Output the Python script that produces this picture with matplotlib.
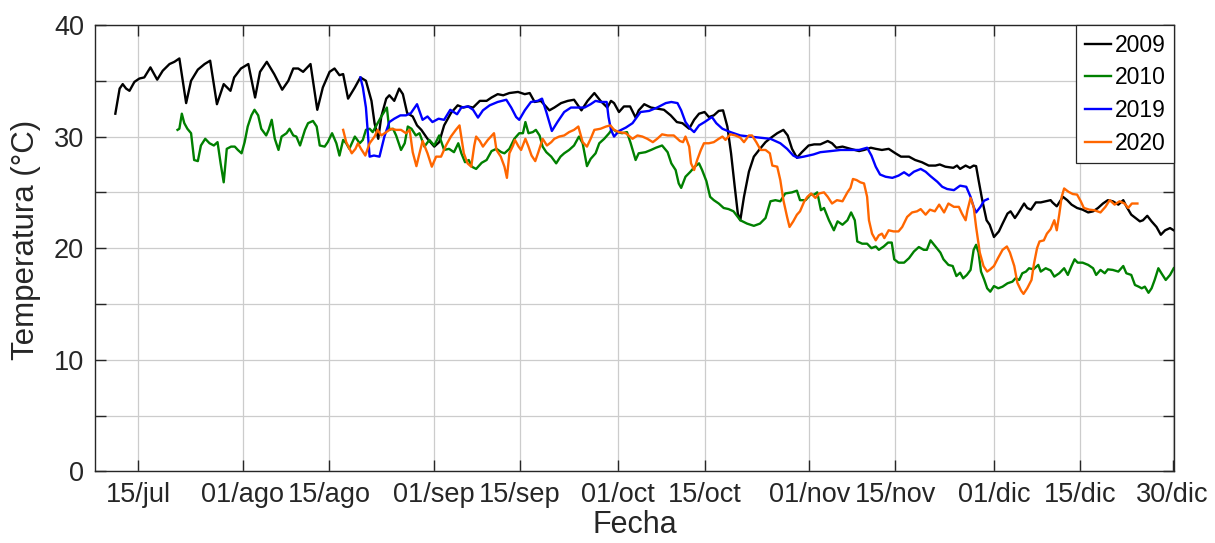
import matplotlib
matplotlib.use("Agg")
import matplotlib.pyplot as plt
from matplotlib.ticker import FixedLocator, MultipleLocator

plt.rcParams['font.family'] = ['Liberation Sans', 'DejaVu Sans']

# x values are day-of-year, y values are temperature (°C)
day_2009 = [192.3,193.0,193.5,194.05,194.6,195.4,196.2,197.0,198.0,199.1,200.0,201.1,201.9,202.7,203.8,204.6,205.7,206.8,207.7,208.8,209.9,211.0,211.6,212.7,213.9,215.0,215.8,216.9,218.1,219.4,220.4,221.2,222.0,222.8,224.0,225.1,226.0,227.1,227.9,228.7,229.3,230.1,231.2,232.1,233.0,233.9,234.4,235.0,235.5,236.3,236.8,237.6,238.4,239.0,239.7,240.6,241.3,242.0,243.0,244.1,244.9,245.7,246.8,247.9,248.8,249.6,250.4,251.5,252.6,253.4,254.4,255.3,256.3,257.7,258.8,259.6,260.4,261.4,262.8,263.6,264.7,265.8,266.8,268.0,269.0,270.1,271.1,272.2,272.8,273.3,274.1,274.9,275.9,276.8,277.3,278.2,279.3,280.3,281.4,282.5,283.5,284.4,285.5,286.3,287.1,288.0,288.7,289.5,290.3,291.0,291.7,292.3,292.9,293.4,293.8,294.4,295.2,296.0,297.0,297.9,298.8,299.8,300.8,301.5,302.2,303.0,303.8,304.9,305.8,306.8,308.0,308.7,309.4,310.4,311.7,313.1,313.9,315.0,315.8,316.8,317.9,319.0,319.9,321.2,322.2,323.3,324.4,325.5,326.2,327.1,328.4,329.0,329.5,330.4,331.1,331.7,332.1,332.5,333.1,333.8,334.3,335.0,335.8,336.4,337.2,337.7,338.4,338.9,339.9,340.4,341.0,341.8,342.6,343.4,344.2,344.5,345.2,346.2,346.9,347.6,348.5,349.4,350.3,351.1,351.9,352.7,353.5,354.3,355.2,356.0,356.5,357.3,358.0,358.7,359.2,359.9,360.6,361.4,362.1,362.8,363.6,364.2]
temp_2009 = [32.05,34.3,34.7,34.3,34.1,34.9,35.2,35.3,36.2,35.1,35.9,36.5,36.7,37.0,33.0,35.0,36.0,36.5,36.8,32.9,34.7,34.1,35.3,36.1,36.5,33.5,35.8,36.7,35.6,34.2,35.0,36.1,36.1,35.8,36.5,32.4,34.4,35.8,36.1,35.5,35.6,33.4,34.4,35.3,35.0,33.2,31.2,29.8,31.8,33.4,33.7,33.2,34.3,33.8,32.1,31.8,31.0,30.6,29.8,29.1,29.5,31.0,32.1,32.8,32.6,32.7,32.6,33.2,33.2,33.5,33.8,33.7,33.9,34.0,33.8,33.9,33.1,33.2,32.35,32.6,33.0,33.2,33.3,32.35,33.2,33.9,33.2,32.6,33.2,33.0,32.2,32.7,32.7,31.7,32.35,32.9,32.6,32.5,32.4,31.9,31.3,31.2,30.7,31.5,32.05,32.2,31.75,31.9,32.3,32.35,30.9,28.5,25.5,23.1,22.5,24.6,26.85,28.2,28.9,29.5,29.9,30.3,30.6,30.1,28.9,28.1,28.6,29.2,29.3,29.3,29.6,29.4,29.0,29.1,28.9,28.7,28.8,29.0,28.9,28.8,28.9,28.5,28.2,28.2,27.9,27.7,27.4,27.4,27.5,27.3,27.2,27.4,27.1,27.4,27.2,27.4,27.35,26.1,24.3,22.5,22.1,21.0,21.5,22.2,23.1,23.3,22.7,23.1,24.0,23.6,23.45,24.1,24.1,24.2,24.3,24.1,23.75,24.6,24.3,23.9,23.6,23.45,23.2,23.3,23.6,24.0,24.3,24.2,23.9,24.3,23.75,23.0,22.7,22.4,22.5,22.9,22.4,21.9,21.2,21.6,21.8,21.6]

day_2010 = [202.4,202.7,203.1,203.5,204.0,204.6,205.1,205.7,206.2,206.9,207.6,208.3,208.9,209.4,209.9,210.4,211.1,211.7,212.2,212.8,213.3,213.8,214.4,214.9,215.5,216.0,216.8,217.2,217.7,218.2,218.8,219.3,220.1,220.6,221.2,221.7,222.3,223.1,223.6,224.4,225.0,225.5,226.3,226.8,227.5,228.2,228.7,229.3,229.8,230.3,231.2,232.0,232.5,233.0,233.6,234.1,234.7,235.5,236.4,236.8,237.4,237.9,238.7,239.3,239.8,240.4,241.1,241.7,242.5,243.3,244.1,244.9,245.7,246.5,247.3,248.0,248.5,249.1,249.7,250.2,250.9,251.8,252.6,253.4,254.2,255.0,255.5,256.3,257.1,257.9,258.5,258.9,259.4,260.1,260.6,261.2,261.7,262.3,263.1,263.9,264.6,265.2,266.0,266.8,267.6,268.2,268.9,269.5,270.3,270.9,271.7,272.5,273.0,273.8,274.6,275.4,276.0,276.8,277.3,278.4,279.3,280.1,281.1,282.0,282.6,283.3,283.8,284.2,284.9,285.7,286.4,287.1,287.6,288.3,288.9,289.5,290.3,291.1,291.9,292.7,293.8,294.9,296.0,297.0,297.9,298.7,299.5,300.3,301.1,302.2,303.0,303.5,304.4,305.2,305.8,306.3,306.6,306.9,307.4,308.2,309.0,309.6,310.4,311.2,311.8,312.4,312.8,313.6,314.4,315.1,315.8,316.3,317.1,317.8,318.4,318.8,319.5,320.4,321.2,322.0,322.8,323.6,324.1,324.7,325.5,326.3,326.8,327.6,328.3,328.9,329.5,330.0,330.6,331.2,331.7,332.1,332.5,332.9,333.4,333.9,334.4,335.0,335.7,336.4,337.2,338.0,338.5,339.1,339.6,340.2,340.7,341.4,342.2,342.6,343.4,344.2,344.8,345.6,346.4,347.0,347.6,348.1,348.6,349.4,350.3,351.1,351.6,352.3,353.0,353.5,354.3,355.2,356.0,356.5,357.3,357.9,358.5,359.0,359.5,360.1,360.6,361.1,361.7,362.2,362.9,363.6,364.2]
temp_2010 = [30.6,30.7,32.05,31.2,30.7,30.3,27.9,27.8,29.2,29.8,29.4,29.2,29.5,27.6,25.9,28.9,29.1,29.1,28.8,28.5,29.5,30.9,31.9,32.4,31.9,30.7,30.1,30.6,31.5,29.8,28.8,30.0,30.3,30.7,30.1,30.0,29.2,30.6,31.2,31.4,30.9,29.2,29.1,29.5,30.3,29.4,28.3,29.7,29.4,28.9,30.0,29.4,29.7,30.6,30.7,30.4,31.0,31.8,32.6,30.6,30.7,30.1,28.8,29.4,30.9,30.7,30.1,30.3,29.1,29.7,29.2,30.1,28.8,28.9,28.6,29.4,28.5,27.7,27.9,27.3,27.1,27.65,27.9,28.7,28.9,28.6,28.5,28.9,29.8,30.3,30.3,31.3,30.3,30.4,30.6,30.1,29.1,28.6,28.2,27.6,28.2,28.5,28.8,29.2,30.0,29.4,27.35,28.0,28.5,29.4,29.8,30.3,30.7,30.4,30.3,30.4,29.4,27.9,28.5,28.6,28.8,29.0,29.2,28.6,27.6,27.0,25.8,25.4,26.4,26.85,27.3,27.6,27.0,26.0,24.6,24.3,24.0,23.6,23.5,23.3,22.5,22.2,22.0,22.2,22.7,24.2,24.3,24.2,24.9,25.0,25.15,24.3,24.3,24.8,24.8,25.0,24.2,23.4,23.6,22.5,21.6,22.4,22.1,22.5,23.2,22.5,20.6,20.4,20.4,20.0,20.15,19.85,20.15,20.5,20.5,19.0,18.7,18.7,19.1,19.7,20.1,19.85,19.85,20.7,20.15,19.6,19.0,18.5,18.4,17.5,17.8,17.3,17.6,18.05,19.85,20.3,19.6,17.9,17.2,16.4,16.1,16.6,16.4,16.55,16.85,17.0,17.3,17.15,17.75,17.9,18.2,18.1,18.5,17.9,18.2,18.0,17.45,17.75,18.2,17.6,18.4,19.0,18.7,18.7,18.5,18.2,17.6,18.05,17.75,18.1,18.05,17.9,18.4,17.75,17.6,16.7,16.55,16.4,16.55,16.0,16.4,17.15,18.2,17.75,17.15,17.6,18.2]

day_2019 = [232.1,232.5,233.0,233.6,234.3,235.2,236.0,236.8,237.6,238.6,239.5,240.3,241.3,242.2,243.0,243.8,244.8,245.7,246.7,247.8,248.5,249.6,250.4,251.2,252.0,253.1,254.4,255.8,256.6,257.4,257.9,258.8,259.8,260.9,261.6,262.3,263.2,264.1,265.2,266.3,267.6,268.5,269.5,270.3,271.1,272.1,272.4,272.8,273.3,274.1,275.2,276.3,277.6,279.0,280.3,281.7,282.6,283.6,284.2,284.9,285.7,286.3,287.1,288.0,289.2,289.9,290.9,292.2,293.8,295.4,297.0,298.7,300.3,301.4,302.4,303.1,304.1,305.7,306.8,308.5,310.1,311.7,313.1,314.4,315.1,315.8,316.5,317.4,318.5,319.5,320.4,321.2,322.0,323.1,323.9,324.7,325.8,326.6,327.4,328.5,329.5,330.5,331.2,331.7,332.1,332.8,333.4,334.0]
temp_2019 = [35.3,34.4,32.6,28.2,28.3,28.2,30.0,31.3,31.6,31.9,31.9,32.1,32.9,31.5,31.8,31.3,31.6,31.5,32.4,32.0,32.6,32.7,32.4,31.7,32.35,32.8,33.1,33.3,32.6,31.75,31.5,32.35,33.1,33.2,33.4,32.2,30.5,31.3,32.2,32.6,32.6,32.6,32.9,33.2,33.1,33.1,31.75,30.6,30.0,30.5,30.8,31.2,32.2,32.3,32.6,33.0,33.1,33.0,32.35,31.3,30.7,30.4,31.0,31.3,31.75,31.2,30.7,30.4,30.1,30.0,29.9,29.8,29.4,28.9,28.3,28.1,28.2,28.4,28.6,28.7,28.8,28.8,28.8,29.0,28.3,27.3,26.6,26.4,26.3,26.5,26.8,26.5,26.85,27.1,26.85,26.45,25.95,25.5,25.3,25.2,25.6,25.5,24.6,23.7,23.2,23.7,24.25,24.4]

day_2020 = [229.3,229.8,230.7,231.3,231.7,232.2,232.9,233.6,234.4,234.9,235.5,236.3,237.1,237.9,238.7,239.5,240.1,240.6,241.2,241.7,242.2,243.0,243.7,244.4,245.2,246.0,246.8,247.6,248.2,248.9,249.5,250.1,250.6,250.9,251.5,252.0,252.8,253.8,254.2,254.9,255.5,255.9,256.3,256.9,257.2,257.8,258.2,258.9,259.4,259.9,260.5,261.0,261.7,262.4,263.1,263.6,264.4,265.2,266.0,266.8,267.5,268.2,268.9,269.5,270.1,271.1,272.0,272.7,273.3,274.1,275.2,276.3,277.1,277.9,278.7,279.6,280.3,281.1,282.0,283.0,284.0,284.5,284.9,285.5,285.8,286.3,286.8,287.4,287.9,288.7,289.5,290.3,290.9,291.4,292.2,293.0,293.8,294.4,295.2,295.7,296.4,297.1,297.9,298.6,299.0,299.8,300.3,300.8,301.4,301.8,302.4,303.0,303.5,304.2,304.7,305.3,306.0,306.6,307.4,308.0,308.7,309.5,310.4,311.2,311.7,312.1,312.7,313.3,313.9,314.4,314.7,315.2,315.8,316.3,316.8,317.2,317.9,318.7,319.5,320.1,320.9,321.7,322.5,323.1,323.9,324.6,325.4,326.1,326.9,327.6,328.5,329.3,329.8,330.4,330.7,331.2,331.7,332.1,332.7,333.3,333.9,334.4,335.0,335.65,336.4,337.1,337.6,338.3,338.8,339.4,339.8,340.4,341.1,341.5,342.0,342.4,343.1,343.6,344.2,344.8,345.2,345.6,346.0,346.4,347.1,347.8,348.5,349.1,349.6,350.5,351.3,352.3,353.1,353.8,354.6,355.4,356.2,356.8,357.4,358.3]
temp_2020 = [30.6,29.5,28.5,28.9,29.4,28.9,28.3,29.4,30.0,30.6,30.1,30.4,30.7,30.6,30.6,30.3,30.6,28.6,27.35,28.5,29.6,28.5,27.3,28.2,28.2,29.2,30.0,30.6,31.0,28.5,27.6,27.3,29.2,30.0,29.6,29.1,29.7,30.3,28.8,28.2,27.3,26.3,28.5,29.2,29.7,29.1,28.8,29.8,29.1,28.3,27.8,28.6,29.8,29.2,29.5,29.8,30.0,30.1,30.4,30.6,30.9,29.5,29.1,29.8,30.6,30.7,30.9,31.0,30.6,30.4,30.3,29.8,30.1,30.0,29.8,29.5,29.8,30.2,30.1,30.1,29.6,29.5,30.0,29.1,27.6,27.0,27.9,28.8,29.4,29.4,29.5,29.8,30.0,29.7,30.2,30.1,29.9,29.5,30.1,30.1,29.5,28.8,28.8,28.5,27.4,27.3,26.1,24.3,22.8,21.9,22.4,23.0,23.3,24.2,24.6,24.9,24.5,24.9,25.0,24.6,24.0,24.3,24.2,25.0,25.4,26.2,26.1,25.9,25.8,24.6,22.5,21.3,20.7,21.15,21.3,20.9,21.6,21.5,21.5,21.9,22.8,23.2,23.3,23.5,23.0,23.45,23.3,23.9,23.2,24.0,23.7,23.7,23.1,22.5,23.4,24.5,23.7,21.9,19.6,18.4,17.9,18.1,18.4,19.1,19.85,20.15,19.6,18.4,16.9,16.2,15.9,16.4,17.15,18.6,20.0,20.6,20.7,21.3,21.7,22.5,21.6,23.0,24.6,25.35,25.05,24.85,24.8,24.2,23.6,23.45,23.4,23.2,23.7,24.3,23.9,24.2,24.0,23.6,24.0,24.0]

series_labels = ['2009', '2010', '2019', '2020']
series_colors = ['#000000', '#008000', '#0000FF', '#FF6600']

tick_days = [196, 213, 227, 244, 258, 274, 288, 305, 319, 335, 349, 364]
tick_labels = ['15/jul', '01/ago', '15/ago', '01/sep', '15/sep', '01/oct',
               '15/oct', '01/nov', '15/nov', '01/dic', '15/dic', '30/dic']

fig = plt.figure(figsize=(12.15, 5.43), dpi=100)
ax = fig.add_axes([0.0782, 0.132, 0.8881, 0.822])

series = [(day_2009, temp_2009), (day_2010, temp_2010),
          (day_2019, temp_2019), (day_2020, temp_2020)]
for (d, t), lab, col in zip(series, series_labels, series_colors):
    ax.plot(d, t, color=col, lw=1.7, label=lab)

ax.set_xlim(189.0, 364.25)
ax.set_ylim(0, 40)
ax.xaxis.set_major_locator(FixedLocator(tick_days))
ax.set_xticklabels(tick_labels)
ax.yaxis.set_major_locator(MultipleLocator(10))
ax.yaxis.set_minor_locator(MultipleLocator(5))

spine_col = '#262626'
for s in ax.spines.values():
    s.set_color(spine_col)
    s.set_linewidth(1.0)

ax.tick_params(axis='both', which='both', direction='in', top=True, right=True,
               length=8, width=1.0, color=spine_col, labelcolor=spine_col,
               labelsize=19.5)
ax.tick_params(axis='x', pad=8)
ax.tick_params(axis='y', pad=8)

ax.grid(True, which='major', color='#cccccc', lw=0.9)
ax.grid(True, which='minor', axis='y', color='#cccccc', lw=0.9)
ax.set_axisbelow(True)

ax.set_xlabel('Fecha', fontsize=22, color=spine_col, labelpad=1)
ax.set_ylabel('Temperatura (°C)', fontsize=22.5, color=spine_col)
ax.yaxis.set_label_coords(-0.05, 0.518)

leg = ax.legend(loc='upper right', fontsize=16.5, frameon=True, fancybox=False,
                borderaxespad=0, handlelength=1.15, handletextpad=0.15,
                labelspacing=0.42, borderpad=0.38, framealpha=1)
leg.get_frame().set_edgecolor(spine_col)
leg.get_frame().set_linewidth(0.9)
for txt in leg.get_texts():
    txt.set_color('#000000')

fig.savefig('out.png', dpi=100)
